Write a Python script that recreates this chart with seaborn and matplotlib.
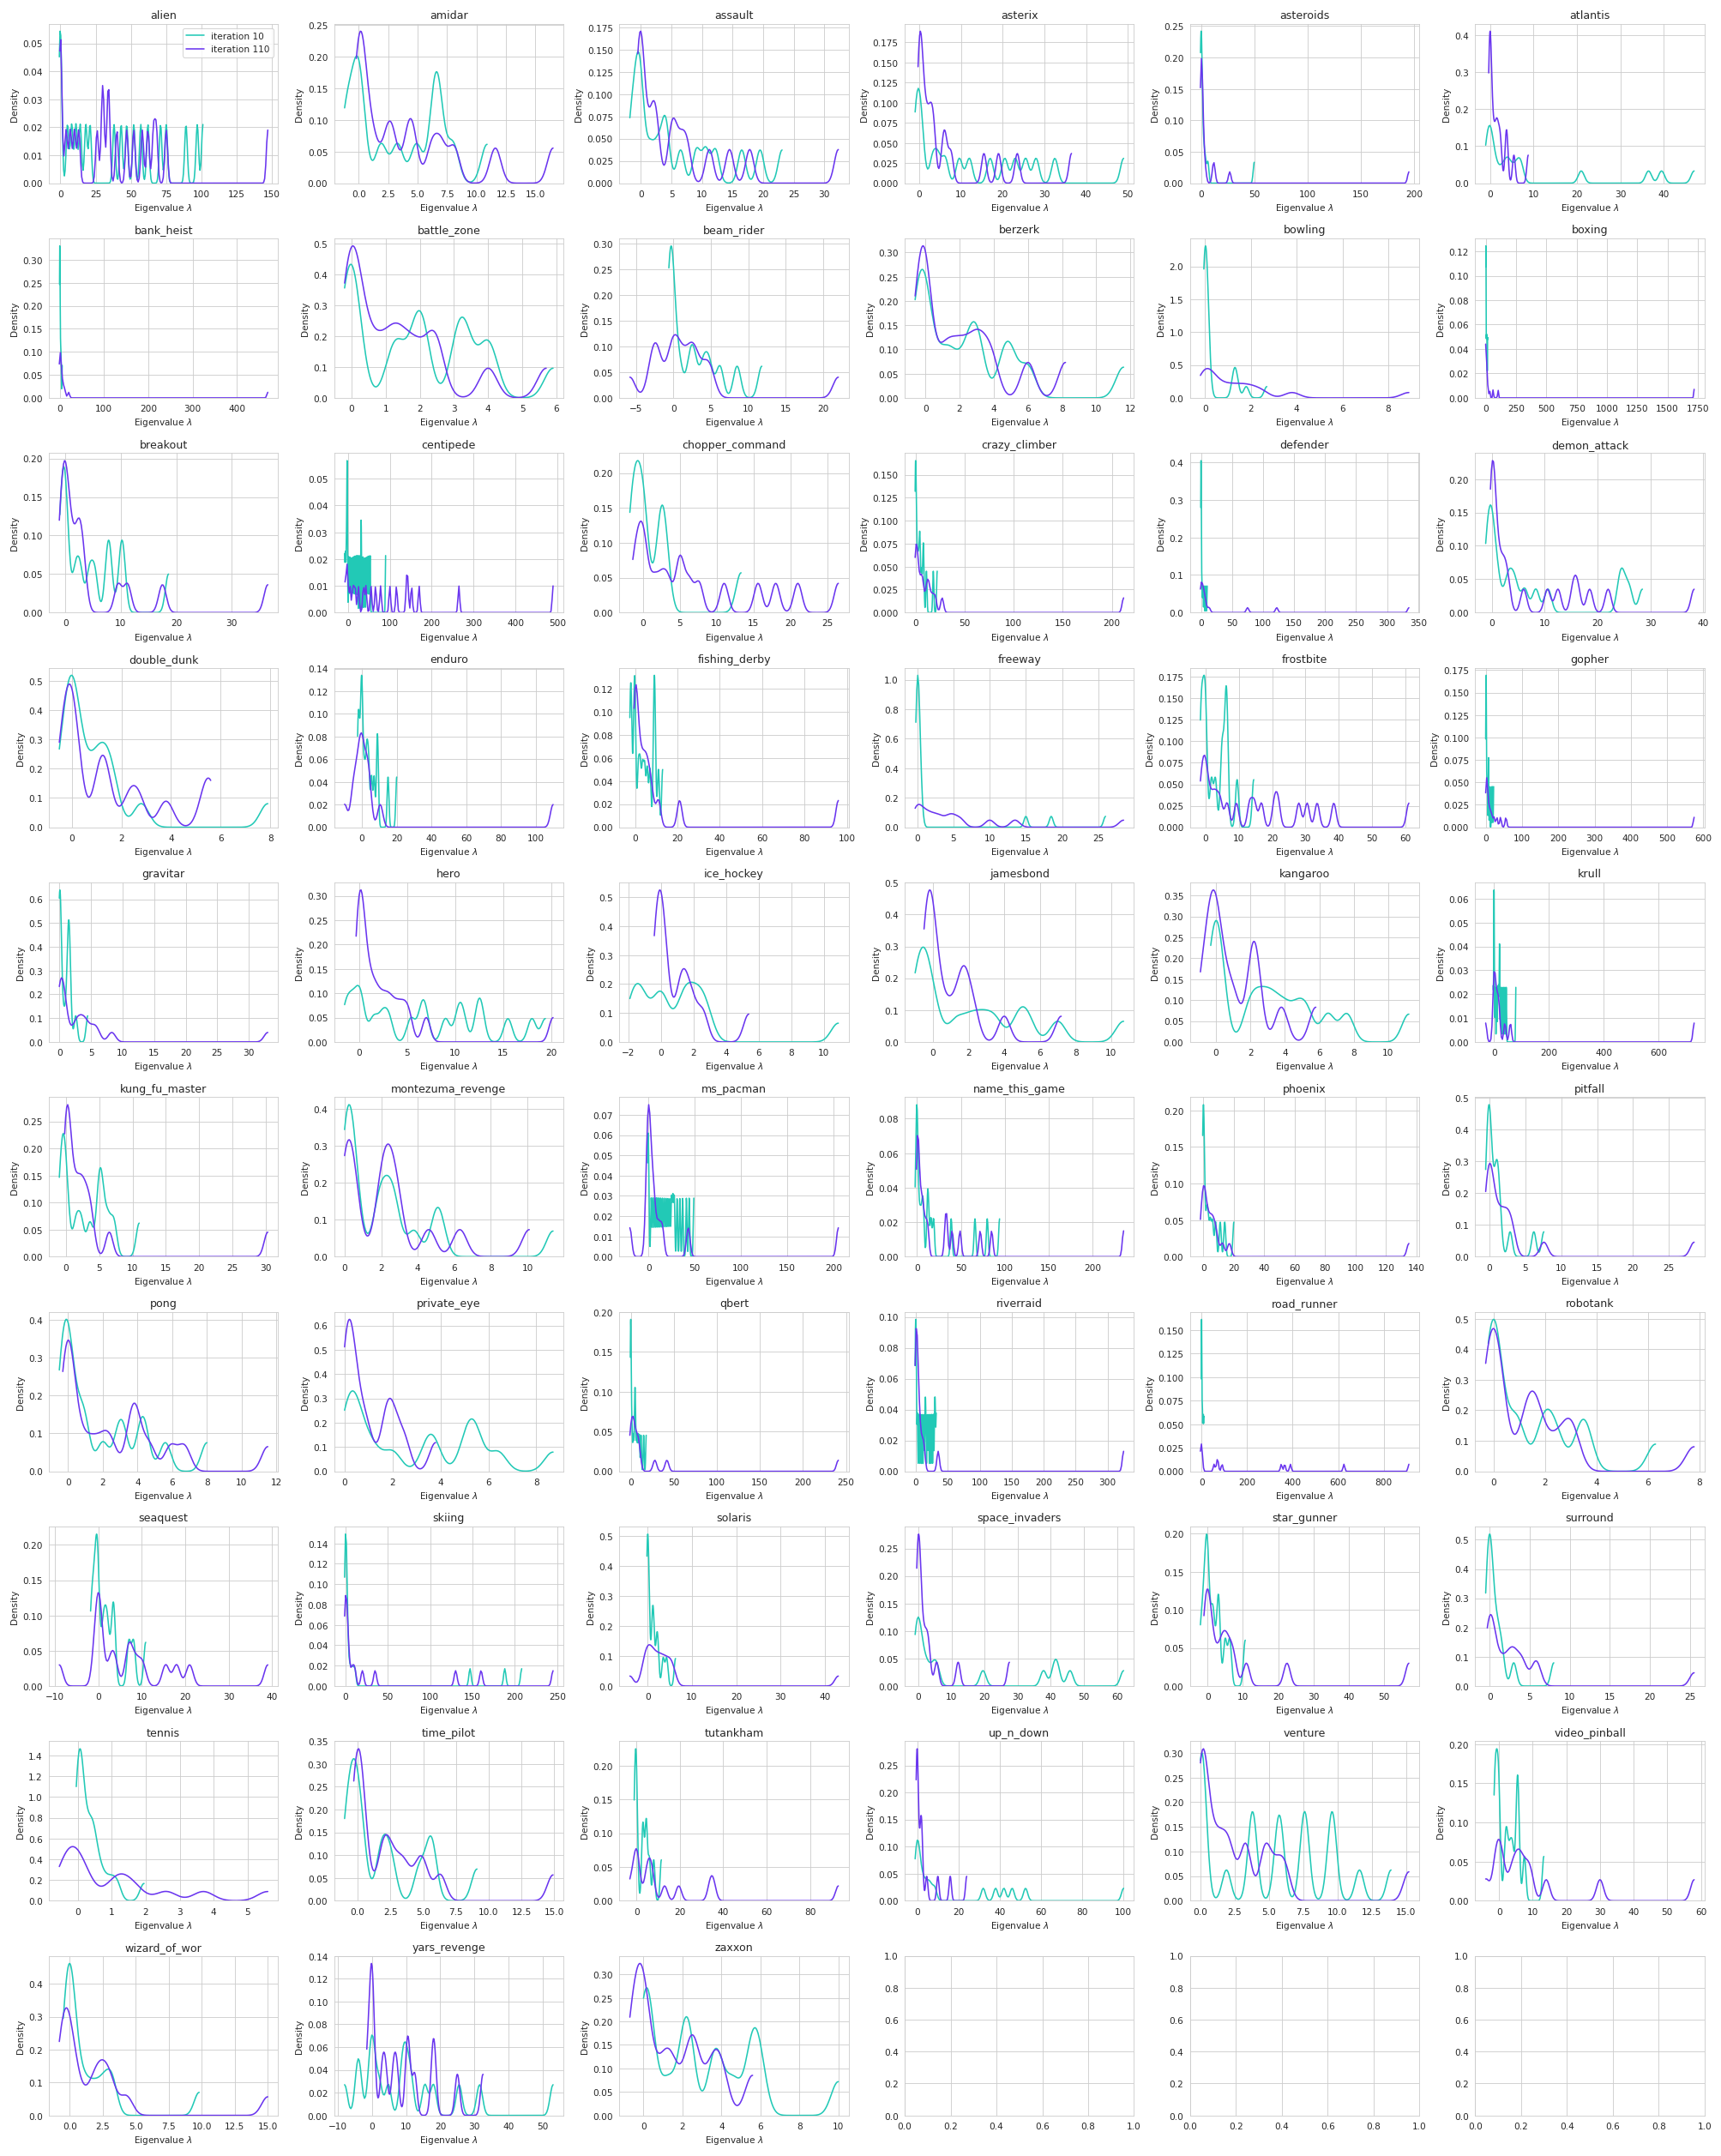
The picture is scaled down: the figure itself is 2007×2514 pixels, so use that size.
import numpy as np
import matplotlib.pyplot as plt
import seaborn as sns

sns.set_style('whitegrid')

games = ['alien', 'amidar', 'assault', 'asterix', 'asteroids', 'atlantis',
         'bank_heist', 'battle_zone', 'beam_rider', 'berzerk', 'bowling', 'boxing',
         'breakout', 'centipede', 'chopper_command', 'crazy_climber', 'defender', 'demon_attack',
         'double_dunk', 'enduro', 'fishing_derby', 'freeway', 'frostbite', 'gopher',
         'gravitar', 'hero', 'ice_hockey', 'jamesbond', 'kangaroo', 'krull',
         'kung_fu_master', 'montezuma_revenge', 'ms_pacman', 'name_this_game', 'phoenix', 'pitfall',
         'pong', 'private_eye', 'qbert', 'riverraid', 'road_runner', 'robotank',
         'seaquest', 'skiing', 'solaris', 'space_invaders', 'star_gunner', 'surround',
         'tennis', 'time_pilot', 'tutankham', 'up_n_down', 'venture', 'video_pinball',
         'wizard_of_wor', 'yars_revenge', 'zaxxon']

# eigenvalues at iteration 10
eig_10 = {
    'alien': [-0.8, 0, 0.4, 5, 8, 11, 14, 18, 21, 38, 43, 47, 52, 57, 62, 71, 75, 89, 97, 101],
    'amidar': [-1.2, -0.8, -0.2, 0, 0.2, 1.9, 3.3, 4.9, 6.4, 6.6, 6.8, 8, 10.9],
    'assault': [-1.8, -1.2, -0.7, -0.4, -0.1, 0.2, 1.5, 2.7, 3.8, 4.2, 6.5, 9.1, 10.6, 12.2, 16.5, 19.5, 23.1],
    'asterix': [-1, -0.6, -0.3, 0.3, 0.6, 3.2, 4.5, 6.2, 9.6, 12, 17, 20.5, 23, 25.5, 28, 32.5, 49],
    'asteroids': [-0.4, -0.2, 0, 0.1, 0.2, 0.4, 0.6, 1.2, 2.5, 4, 6.5, 50],
    'atlantis': [-1, -0.6, -0.3, 0, 0.3, 0.6, 1.5, 2.8, 3.8, 4.4, 5.6, 6.6, 7.2, 21, 36.5, 39.5, 47],
    'bank_heist': [-0.5, -0.2, 0, 0.2, 0.5, 1, 2, 3, 5.5],
    'battle_zone': [-0.2, -0.1, 0, 0.05, 0.15, 1.2, 1.4, 1.9, 2.0, 2.1, 3.1, 3.2, 3.4, 3.9, 4.1, 5.9],
    'beam_rider': [-0.6, -0.4, -0.3, -0.2, -0.1, 0.8, 2.2, 2.8, 4.0, 4.8, 6.2, 8.5, 11.8],
    'berzerk': [-0.6, -0.4, -0.2, 0, 0.2, 1.0, 1.6, 2.4, 2.9, 3.1, 4.6, 5.0, 6.0, 11.6],
    'bowling': [-0.05, -0.04, -0.03, -0.02, -0.01, 0, 0.01, 0.02, 0.03, 0.04, 0.05, 0.07, 0.09, 0.11, 0.14,
                1.25, 1.3, 1.38, 1.8, 2.7],
    'boxing': [-0.5, 0, 0.5, 2, 4, 6, 8, 10, 13, 15],
    'breakout': [-1, -0.6, -0.3, 0, 0.3, 1.8, 2.7, 4.3, 5.3, 7.6, 8.0, 10.0, 10.4, 18.6],
    'centipede': [-8, -6, -4, -2.5, -2, -1.5, 2, 5, 8, 11, 14, 17, 20, 23, 27, 31, 32, 36, 40, 44,
                  47, 50, 53, 90],
    'chopper_command': [-1.8, -1.3, -1.0, -0.5, 0, 0.3, 2.2, 2.6, 3.0, 13.3],
    'crazy_climber': [-0.5, -0.2, 0, 0.4, 1, 2, 3, 4, 4.5, 6, 7.5, 8.2, 11, 18, 22],
    'defender': [-0.5, -0.3, -0.1, 0, 0.1, 0.3, 0.5, 1.5, 3, 5, 7.5, 10],
    'demon_attack': [-1.2, -0.8, -0.5, -0.2, 0.1, 0.4, 1.2, 2.8, 3.6, 4.5, 6.2, 8.3, 10.6, 24.2, 24.8, 26, 28.5],
    'double_dunk': [-0.5, -0.3, -0.15, -0.05, 0, 0.05, 0.15, 0.3, 0.6, 0.9, 1.1, 1.3, 1.5, 1.7, 2.8, 7.9],
    'enduro': [-2.5, -2, -1.5, -0.7, -0.3, 0, 0.5, 1.5, 2.5, 3.2, 4, 5.5, 7, 8.7, 9.1, 15, 20],
    'fishing_derby': [-2.5, -2, -1.8, -0.6, -0.2, 0, 1.5, 2.4, 3.5, 4.5, 5.7, 7, 8.8, 9.1, 9.4, 11, 13],
    'freeway': [-0.2, -0.15, -0.1, -0.05, -0.02, 0, 0.02, 0.05, 0.08, 0.1, 0.12, 0.15, 0.2, 0.25, 0.3, 0.4,
                0.55, 15, 18.5, 26],
    'frostbite': [-1.5, -1.2, -0.8, -0.4, 0, 0.2, 1.8, 3.0, 4.8, 5.3, 6.1, 6.3, 6.5, 9.5, 14.5],
    'gopher': [-1, -0.5, 0, 0.3, 0.6, 1.2, 2.5, 4, 6.5, 7.2, 10, 15, 18, 21],
    'gravitar': [0, 0.03, 0.06, 0.1, 0.14, 0.2, 0.8, 1.35, 1.45, 1.5, 1.55, 1.65, 2.6, 4.5],
    'hero': [-1.5, -1, -0.5, 0, 0.3, 1.5, 2.4, 3.1, 5.4, 6.5, 6.9, 9, 10.3, 10.8, 12.4, 12.7, 15.5, 18, 19.4],
    'ice_hockey': [-1.9, -1.6, -1.3, -1.0, -0.3, 0, 0.3, 1.2, 1.5, 1.8, 2.2, 2.5, 2.9, 10.9],
    'jamesbond': [-1, -0.8, -0.6, -0.45, -0.3, 0.1, 1.3, 2.1, 2.8, 3.5, 4.8, 5.3, 7.0, 10.7],
    'kangaroo': [-0.3, -0.15, 0.05, 0.15, 0.3, 1.9, 2.4, 2.9, 3.4, 4.0, 4.7, 5.3, 6.5, 7.6, 11.2],
    'krull': [-3, 0, 0.5, 1, 5, 10, 14, 17, 20, 21, 25, 30, 35, 40, 45, 80],
    'kung_fu_master': [-1, -0.6, -0.4, -0.2, 0.2, 1.5, 2.3, 3.6, 4.9, 5.1, 5.5, 6.3, 7.2, 11],
    'montezuma_revenge': [0, 0.08, 0.16, 0.24, 0.32, 0.45, 0.7, 1.8, 2.0, 2.3, 2.6, 2.8, 3.8, 5.0, 5.2, 11.4],
    'ms_pacman': [-1, -0.3, 0.3, 3, 5, 7, 9, 11, 13, 15, 17, 19, 21, 23, 25, 26.5, 28, 31, 34, 37, 41, 44, 49],
    'name_this_game': [-2, -0.6, -0.2, 0.2, 0.6, 2, 4, 6, 7.5, 12, 13, 16, 19, 39, 66, 80, 94],
    'phoenix': [-0.5, -0.2, 0, 0.2, 0.5, 2, 3, 4.5, 6, 8, 11, 14, 20],
    'pitfall': [-0.5, -0.3, -0.2, -0.1, 0, 0.1, 0.2, 0.35, 0.75, 0.95, 1.1, 1.25, 1.5, 2.9, 6.2, 7.6],
    'pong': [-0.5, -0.35, -0.2, -0.1, 0, 0.15, 0.35, 0.8, 1.0, 2.0, 2.9, 3.2, 4.2, 4.4, 5.6, 8.0],
    'private_eye': [0, 0.2, 0.3, 0.45, 0.7, 1.2, 2.0, 3.5, 3.7, 5.1, 5.3, 5.5, 6.4, 8.7],
    'qbert': [-0.5, -0.2, 0, 0.2, 0.5, 1.5, 3, 4.5, 5, 5.5, 7, 8.5, 10, 12, 15, 18],
    'riverraid': [-1, -0.5, 0, 0.5, 1, 2.5, 5, 7.5, 10, 12.5, 14.5, 15.5, 18, 20, 22.5, 25, 27.5,
                  29.5, 30.5, 32],
    'road_runner': [-1, 0, 0.3, 1, 2.5, 4, 6, 8, 10],
    'robotank': [-0.2, -0.1, -0.03, 0.03, 0.1, 0.2, 0.8, 1.0, 1.9, 2.1, 2.5, 3.4, 3.6, 6.3],
    'seaquest': [-1.8, -1.3, -0.9, -0.4, -0.25, -0.1, 1.0, 1.6, 2.2, 3.3, 3.6, 7.0, 8.1, 10.9],
    'skiing': [-1, -0.6, -0.3, 0, 0.2, 0.4, 0.6, 0.9, 1.2, 1.6, 2.5, 5, 8, 11, 147, 188, 208],
    'solaris': [-0.15, -0.05, 0, 0.05, 0.15, 0.25, 1.1, 1.2, 1.3, 2.1, 2.25, 3.5, 4.3, 6.3],
    'space_invaders': [-1, -0.6, -0.2, 0.2, 0.6, 1.5, 2.8, 4.5, 5.7, 19.5, 37.8, 41, 42, 45.8, 62],
    'star_gunner': [-2, -1.2, -0.7, -0.3, 0, 0.3, 1.2, 1.8, 3.0, 3.2, 5.0, 6.3, 10.7],
    'surround': [-0.5, -0.35, -0.2, -0.1, 0, 0.1, 0.2, 0.35, 0.6, 0.9, 1.2, 1.6, 3.0, 8.0],
    'tennis': [-0.05, -0.02, 0, 0.02, 0.04, 0.06, 0.08, 0.1, 0.13, 0.2, 0.28, 0.35, 0.4, 0.45, 0.5, 0.6,
               0.75, 0.95, 1.15, 1.95],
    'time_pilot': [-1, -0.7, -0.5, -0.3, -0.1, 0.1, 0.4, 1.7, 2.1, 2.6, 4.7, 5.5, 5.7, 9.1],
    'tutankham': [-1, -0.6, -0.3, 0, 0.3, 2.8, 3.2, 4.4, 4.7, 6, 8, 11.5],
    'up_n_down': [-1, -0.5, -0.1, 0.3, 0.7, 1.2, 2.2, 3.5, 5, 6.5, 8.5, 32, 38, 42, 46, 52.5, 100],
    'venture': [0, 0.05, 0.1, 0.15, 0.25, 1.9, 3.7, 3.8, 3.9, 5.6, 5.75, 5.9, 7.5, 7.6, 7.7, 9.5, 9.6, 9.7,
                11.6, 13.9],
    'video_pinball': [-1.5, -1.2, -0.9, -0.5, -0.2, 0.1, 1.8, 2.4, 3.3, 4.1, 5.3, 5.5, 5.7, 7.5, 13.3],
    'wizard_of_wor': [-0.5, -0.35, -0.2, -0.1, 0, 0.1, 0.2, 0.35, 0.7, 1.2, 1.8, 2.4, 2.9, 3.3, 9.8],
    'yars_revenge': [-8, -4.3, -3.6, -0.6, 0, 0.6, 2.2, 4.8, 8.7, 9.5, 10.3, 11.5, 15.5, 18, 25.5, 31.5, 53],
    'zaxxon': [0, 0.1, 0.2, 0.35, 1.25, 2.1, 2.2, 2.35, 3.6, 3.8, 4.6, 5.5, 5.7, 6.0, 10],
}

# eigenvalues at iteration 110
eig_110 = {
    'alien': [-0.5, 0, 0.5, 4, 7, 10, 13, 26, 29.6, 30.4, 33.6, 34.4, 40, 47, 52, 58, 62, 66, 68, 75, 147],
    'amidar': [-0.2, -0.05, 0.15, 0.3, 0.6, 1.3, 2.4, 2.9, 4.2, 4.6, 6.2, 7.0, 8.1, 11.6, 16.5],
    'assault': [-0.5, -0.3, -0.15, 0.15, 0.4, 1.5, 2.2, 2.6, 4.9, 5.5, 6.6, 7.6, 11.2, 14.5, 17.8, 32.3],
    'asterix': [-0.3, -0.1, 0.1, 0.3, 0.5, 0.9, 1.4, 2.0, 2.6, 3.1, 3.6, 5.7, 6.3, 7.6, 15.5, 19, 23.5, 36.5],
    'asteroids': [-0.5, -0.2, 0, 0.1, 0.2, 0.4, 0.5, 0.6, 0.8, 1.0, 1.3, 1.7, 2.5, 4, 11.5, 12.5, 27, 195],
    'atlantis': [-0.3, -0.1, -0.05, 0, 0.1, 0.3, 0.6, 1.0, 1.4, 1.7, 2.1, 2.5, 3.7, 3.9, 5.5, 8.8],
    'bank_heist': [-1, -0.5, 0, 0.3, 0.6, 1, 1.5, 2, 3, 4, 5, 7, 9, 12, 20, 470],
    'battle_zone': [-0.2, -0.1, 0, 0.05, 0.15, 0.3, 0.6, 0.9, 1.2, 1.4, 1.7, 2.0, 2.4, 2.5, 4.0, 5.7],
    'beam_rider': [-5.8, -2.9, -2.4, -2.0, -0.5, 0, 0.4, 1.1, 1.9, 2.6, 3.0, 4.2, 5.0, 22],
    'berzerk': [-0.6, -0.3, -0.1, 0, 0.1, 1.0, 1.6, 2.2, 2.8, 3.3, 3.9, 6.0, 8.2],
    'bowling': [-0.2, -0.1, 0, 0.1, 0.2, 0.35, 0.6, 0.9, 1.2, 1.5, 1.8, 2.1, 2.5, 3.8, 8.9],
    'boxing': [-2, -1, -0.5, 0, 0.5, 1, 2, 3, 5, 8, 12, 18, 30, 60, 100, 1720],
    'breakout': [-1.1, -0.7, -0.4, -0.2, 0, 0.3, 0.7, 1.2, 2.0, 2.4, 2.8, 3.3, 9.5, 11.2, 17.5, 36.5],
    'centipede': [-7, -3, -1, 5, 12, 17, 25, 37, 43, 55, 66, 78, 100, 116, 140, 143, 152, 170, 265, 490],
    'chopper_command': [-1.4, -0.8, -0.4, 0, 0.4, 1.5, 2.5, 3.4, 4.8, 5.2, 6.3, 7.6, 11, 15.6, 18, 21, 26.5],
    'crazy_climber': [-0.5, 0, 0.5, 1, 2, 3, 5, 6.5, 7.5, 11, 12.5, 14, 17, 20, 27, 212],
    'defender': [-1, -0.5, 0, 0.5, 1, 2, 3, 4, 5, 6, 8, 13, 75, 122, 335],
    'demon_attack': [-0.3, -0.15, 0, 0.1, 0.2, 0.35, 0.6, 1.2, 1.8, 2.4, 3.0, 6.0, 10.5, 12.5, 15.4, 16.2,
                     18.5, 22, 38.3],
    'double_dunk': [-0.5, -0.3, -0.2, -0.1, 0, 0.1, 0.2, 1.1, 1.25, 1.4, 2.3, 2.7, 3.8, 5.4, 5.6],
    'enduro': [-10, -5.5, -4, -2.5, -1.5, -0.5, 0, 0.8, 2.5, 3.3, 4.5, 10.5, 110],
    'fishing_derby': [-0.5, -0.2, 0, 0.3, 0.8, 1.5, 2.5, 3.5, 4.5, 5.5, 6.5, 8, 11, 21, 96],
    'freeway': [-0.3, 0, 0.3, 1.0, 1.6, 2.4, 3.2, 4.3, 5.0, 6.0, 10, 13.5, 28.5],
    'frostbite': [-1.5, -0.8, -0.3, 0.2, 1.0, 2.2, 3.3, 4.5, 6.5, 9.3, 13.3, 14.7, 16.8, 20.7, 21.8, 28,
                  30.5, 33.5, 38.5, 61],
    'gopher': [-1, 0, 1, 2, 3, 4, 6, 9, 12, 16, 22, 30, 40, 55, 575],
    'gravitar': [0, 0.05, 0.15, 0.3, 0.45, 0.55, 0.7, 1.2, 2.4, 2.9, 3.4, 3.9, 4.4, 5.3, 6.0, 8.3, 33],
    'hero': [-0.3, -0.15, 0, 0.1, 0.2, 0.35, 0.5, 0.8, 1.1, 1.5, 1.9, 2.4, 2.9, 3.4, 4.0, 4.6, 5.2, 7.0, 20.2],
    'ice_hockey': [-0.4, -0.25, -0.15, -0.05, 0.05, 0.15, 0.4, 1.1, 1.35, 1.6, 2.0, 2.6, 5.4],
    'jamesbond': [-0.5, -0.4, -0.3, -0.2, -0.1, 0, 0.15, 0.5, 1.0, 1.5, 1.7, 1.9, 2.3, 4.0, 7.2],
    'kangaroo': [-0.9, -0.5, -0.3, -0.15, 0, 0.2, 0.6, 1.1, 2.1, 2.2, 2.35, 3.8, 5.8],
    'krull': [-30, -2, 0, 2, 4, 8, 12, 16, 20, 40, 60, 730],
    'kung_fu_master': [-0.2, -0.05, 0.05, 0.15, 0.3, 0.5, 0.8, 1.3, 1.7, 2.1, 2.5, 2.9, 3.4, 3.9, 6.5, 30.3],
    'montezuma_revenge': [0, 0.1, 0.2, 0.4, 0.6, 1.9, 2.1, 2.3, 2.5, 2.7, 3.0, 4.6, 6.3, 10.1],
    'ms_pacman': [-20, -2, -1, -0.3, 0.3, 1, 2, 3.5, 5, 7, 11, 15, 43, 205],
    'name_this_game': [-0.5, 0.3, 0.8, 1.3, 1.8, 3, 4.5, 6, 7.5, 10, 12.5, 32.5, 34, 40, 49, 72, 85, 235],
    'phoenix': [-2, -1, -0.5, 0, 0.5, 1, 1.5, 2.5, 3.5, 4.5, 5.5, 6.5, 7.5, 9, 12.5, 17, 135],
    'pitfall': [-0.5, -0.25, -0.1, 0, 0.1, 0.25, 0.5, 0.9, 1.3, 1.7, 2.1, 2.5, 2.9, 3.3, 7.6, 28.5],
    'pong': [-0.3, -0.15, -0.05, 0.05, 0.15, 0.3, 0.8, 1.4, 2.0, 2.5, 3.6, 3.8, 4.0, 4.7, 5.9, 6.7, 11.5],
    'private_eye': [0, 0.05, 0.15, 0.2, 0.3, 0.45, 0.7, 1.0, 1.7, 1.85, 2.1, 2.5, 3.8],
    'qbert': [-1, 0, 1, 2, 3, 4, 5, 7.5, 8.5, 10, 28, 42, 241],
    'riverraid': [-1, -0.5, 0, 0.5, 1, 1.5, 2, 3, 4, 5, 7, 10, 13, 35, 325],
    'road_runner': [-5, -3, -1, 1, 3, 55, 68, 72, 90, 350, 365, 390, 625, 910],
    'robotank': [-0.3, -0.2, -0.1, 0, 0.1, 0.2, 0.35, 1.2, 1.4, 1.6, 1.8, 2.4, 2.9, 3.1, 7.8],
    'seaquest': [-9, -0.6, -0.3, 0, 0.3, 0.6, 2.8, 3.8, 6.8, 7.3, 8.7, 10.2, 15.5, 18, 21, 39],
    'skiing': [-1, -0.5, 0, 0.5, 1, 1.5, 2.5, 4, 8, 11, 20, 35, 130, 160, 245],
    'solaris': [-4, -1.0, -0.4, 0, 0.4, 0.9, 1.4, 2.0, 2.6, 3.2, 3.8, 4.5, 5.2, 5.8, 43],
    'space_invaders': [-0.5, -0.3, -0.15, 0, 0.15, 0.3, 0.6, 1.2, 1.9, 2.6, 3.2, 5.5, 12, 27.5],
    'star_gunner': [-1, -0.5, -0.1, 0.3, 0.8, 1.8, 3.3, 4.4, 5.2, 6.3, 7.5, 11, 22.5, 57],
    'surround': [-0.3, -0.15, 0, 0.15, 0.3, 0.6, 1.2, 1.8, 2.4, 2.8, 3.2, 3.8, 4.3, 5.6, 6.0, 25.5],
    'tennis': [-0.55, -0.4, -0.3, -0.2, -0.1, 0, 0.1, 0.3, 1.0, 1.2, 1.4, 1.7, 2.6, 3.7, 5.6],
    'time_pilot': [-0.3, -0.15, -0.05, 0.05, 0.15, 0.3, 0.6, 1.8, 2.1, 2.5, 3.1, 3.7, 4.6, 5.1, 6.3, 14.9],
    'tutankham': [-3, -1, -0.3, 0.3, 1, 4.5, 5.5, 6.5, 7.5, 13, 19.5, 34, 35.5, 93],
    'up_n_down': [-0.5, -0.35, -0.2, -0.05, 0.1, 0.25, 0.4, 1.5, 1.8, 2.1, 2.4, 4.6, 10, 16, 24],
    'venture': [0, 0.05, 0.1, 0.2, 0.35, 0.7, 1.1, 1.5, 1.9, 2.3, 3.2, 3.4, 4.6, 4.9, 5.6, 6.2, 15.2],
    'video_pinball': [-4, -1.2, -0.5, 0.3, 1.2, 3.5, 4.8, 5.8, 6.8, 8.2, 9.5, 14, 30, 58],
    'wizard_of_wor': [-0.8, -0.6, -0.45, -0.3, -0.15, 0, 0.2, 0.7, 1.6, 2.1, 2.4, 2.8, 3.2, 4.3, 15],
    'yars_revenge': [-1.5, -0.5, -0.2, 0.1, 0.4, 3.0, 4.0, 6.3, 7.3, 10.3, 10.7, 12.5, 17.8, 18.3, 25, 32.5],
    'zaxxon': [-0.7, -0.4, -0.2, 0, 0.2, 1.0, 1.5, 2.4, 2.6, 3.5, 4.0, 5.6],
}

# kernel widths (in eigenvalue units) used for each curve
bw_10 = {
    'alien': 0.95, 'amidar': 0.5, 'assault': 0.63, 'asterix': 0.76, 'asteroids': 1.0, 'atlantis': 0.71,
    'bank_heist': 0.63, 'battle_zone': 0.26, 'beam_rider': 0.5, 'berzerk': 0.45, 'bowling': 0.117,
    'boxing': 0.9, 'breakout': 0.57, 'centipede': 0.78, 'chopper_command': 0.7, 'crazy_climber': 0.59,
    'defender': 0.47, 'demon_attack': 0.67, 'double_dunk': 0.31, 'enduro': 0.53, 'fishing_derby': 0.47,
    'freeway': 0.27, 'frostbite': 0.48, 'gopher': 0.63, 'gravitar': 0.26, 'hero': 0.44,
    'ice_hockey': 0.44, 'jamesbond': 0.44, 'kangaroo': 0.4, 'krull': 1.09, 'kung_fu_master': 0.46,
    'montezuma_revenge': 0.36, 'ms_pacman': 0.6, 'name_this_game': 1.07, 'phoenix': 0.65,
    'pitfall': 0.32, 'pong': 0.33, 'private_eye': 0.36, 'qbert': 0.55, 'riverraid': 0.54,
    'road_runner': 0.8, 'robotank': 0.32, 'seaquest': 0.46, 'skiing': 1.38, 'solaris': 0.31,
    'space_invaders': 0.95, 'star_gunner': 0.51, 'surround': 0.36, 'tennis': 0.12, 'time_pilot': 0.41,
    'tutankham': 0.55, 'up_n_down': 1.02, 'venture': 0.32, 'video_pinball': 0.47,
    'wizard_of_wor': 0.38, 'yars_revenge': 0.87, 'zaxxon': 0.37,
}
bw_110 = {
    'alien': 1.0, 'amidar': 0.48, 'assault': 0.66, 'asterix': 0.6, 'asteroids': 1.23, 'atlantis': 0.33,
    'bank_heist': 2.07, 'battle_zone': 0.26, 'beam_rider': 0.71, 'berzerk': 0.42, 'bowling': 0.33,
    'boxing': 3.56, 'breakout': 0.69, 'centipede': 2.0, 'chopper_command': 0.56, 'crazy_climber': 1.56,
    'defender': 2.05, 'demon_attack': 0.6, 'double_dunk': 0.3, 'enduro': 1.53, 'fishing_derby': 1.15,
    'freeway': 0.64, 'frostbite': 0.71, 'gopher': 2.4, 'gravitar': 0.59, 'hero': 0.42,
    'ice_hockey': 0.32, 'jamesbond': 0.33, 'kangaroo': 0.37, 'krull': 4.2, 'kung_fu_master': 0.55,
    'montezuma_revenge': 0.39, 'ms_pacman': 2.0, 'name_this_game': 1.48, 'phoenix': 1.3,
    'pitfall': 0.55, 'pong': 0.36, 'private_eye': 0.26, 'qbert': 2.2, 'riverraid': 2.05,
    'road_runner': 3.8, 'robotank': 0.33, 'seaquest': 0.83, 'skiing': 1.77, 'solaris': 0.8,
    'space_invaders': 0.66, 'star_gunner': 0.95, 'surround': 0.55, 'tennis': 0.3, 'time_pilot': 0.44,
    'tutankham': 1.3, 'up_n_down': 0.59, 'venture': 0.4, 'video_pinball': 1.06,
    'wizard_of_wor': 0.47, 'yars_revenge': 0.69, 'zaxxon': 0.39,
}

colors = {'iteration 10': '#22c9b6', 'iteration 110': '#6a35ef'}

fig, axes = plt.subplots(10, 6, figsize=(26.42, 33.09))
axes = axes.flatten()

for i, game in enumerate(games):
    ax = axes[i]
    for label, data, bw in [('iteration 10', eig_10[game], bw_10[game]),
                            ('iteration 110', eig_110[game], bw_110[game])]:
        vals = np.array(data, dtype=float)
        # convert kernel width to a factor of the sample std
        factor = bw / vals.std(ddof=1)
        sns.kdeplot(x=vals, bw_method=factor, cut=0, ax=ax, color=colors[label],
                    label=label, linewidth=1.5)
    ax.set_title(game)
    ax.set_xlabel('Eigenvalue $\\lambda$')
    ax.set_ylabel('Density')
    if i == 0:
        ax.legend(loc='upper right')

plt.tight_layout()
plt.savefig('out.png', dpi=76)
